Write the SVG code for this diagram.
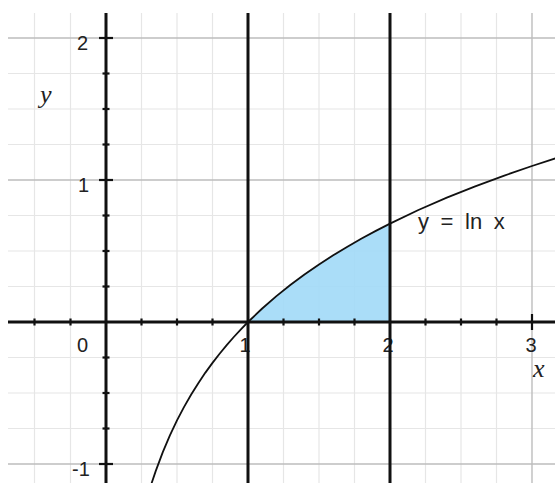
<svg xmlns="http://www.w3.org/2000/svg" width="555" height="483" viewBox="0 0 555 483">
<defs>
<style>
.minor{stroke:#e6e6e6;stroke-width:1.2}
.major{stroke:#bdbdbd;stroke-width:1.4}
.axis{stroke:#111;stroke-width:3}
.vline{stroke:#111;stroke-width:3}
.tick{stroke:#111;stroke-width:2.2}
.curve{fill:none;stroke:#111;stroke-width:1.8;stroke-linejoin:round;stroke-linecap:round}
.shade{fill:#a3daf7;fill-opacity:0.92}
.num{font-family:"Liberation Sans",Arial,sans-serif;font-size:20px;fill:#222;text-anchor:middle}
.var{font-family:"Liberation Serif","Times New Roman",serif;font-style:italic;font-size:26px;fill:#222}
.eq{font-family:"Liberation Sans",Arial,sans-serif;font-size:22px;fill:#222;word-spacing:5.5px}
</style>
</defs>
<rect width="555" height="483" fill="#fff"/>
<g id="grid">
<g class="minor">
<line x1="34.5" y1="13" x2="34.5" y2="483"/>
<line x1="70.5" y1="13" x2="70.5" y2="483"/>
<line x1="141.5" y1="13" x2="141.5" y2="483"/>
<line x1="177" y1="13" x2="177" y2="483"/>
<line x1="212.5" y1="13" x2="212.5" y2="483"/>
<line x1="283.5" y1="13" x2="283.5" y2="483"/>
<line x1="319" y1="13" x2="319" y2="483"/>
<line x1="354.5" y1="13" x2="354.5" y2="483"/>
<line x1="425.5" y1="13" x2="425.5" y2="483"/>
<line x1="461" y1="13" x2="461" y2="483"/>
<line x1="496.5" y1="13" x2="496.5" y2="483"/>
<line x1="8" y1="73.5" x2="555" y2="73.5"/>
<line x1="8" y1="109" x2="555" y2="109"/>
<line x1="8" y1="144.5" x2="555" y2="144.5"/>
<line x1="8" y1="215.5" x2="555" y2="215.5"/>
<line x1="8" y1="251" x2="555" y2="251"/>
<line x1="8" y1="286.5" x2="555" y2="286.5"/>
<line x1="8" y1="357.5" x2="555" y2="357.5"/>
<line x1="8" y1="393" x2="555" y2="393"/>
<line x1="8" y1="428.5" x2="555" y2="428.5"/>
</g>
<g class="major">
<line x1="532" y1="13" x2="532" y2="483"/>
<line x1="8" y1="38" x2="555" y2="38"/>
<line x1="8" y1="180" x2="555" y2="180"/>
<line x1="8" y1="464" x2="555" y2="464"/>
</g>
</g>
<g id="area">
<polygon class="shade" points="248,322 262.2,308.5 276.4,296.1 290.6,284.7 304.8,274.2 319,264.4 333.2,255.3 347.4,246.7 361.6,238.5 375.8,230.9 390,223.6 390,322"/>
</g>
<g id="labels">
<text class="num" x="82.5" y="50">2</text>
<text class="num" x="83.5" y="192">1</text>
<text class="num" x="82.5" y="352">0</text>
<text class="num" x="81" y="476">-1</text>
<text class="num" x="245" y="352">1</text>
<text class="num" x="388" y="352">2</text>
<text class="num" x="531" y="352">3</text>
<text class="var" x="40" y="103">y</text>
<text class="var" x="533" y="377">x</text>
<text class="eq" x="418" y="229">y = ln x</text>
</g>
<g id="connectors">
<g id="axes">
<line class="axis" x1="8" y1="322" x2="555" y2="322"/>
<line class="axis" x1="106" y1="13" x2="106" y2="483"/>
<line class="vline" x1="248" y1="13" x2="248" y2="483"/>
<line class="vline" x1="390" y1="13" x2="390" y2="483"/>
</g>
<g id="ticks" class="tick">
<line x1="34.5" y1="318.5" x2="34.5" y2="325.5"/>
<line x1="70.5" y1="318.5" x2="70.5" y2="325.5"/>
<line x1="141.5" y1="318.5" x2="141.5" y2="325.5"/>
<line x1="177" y1="318.5" x2="177" y2="325.5"/>
<line x1="212.5" y1="318.5" x2="212.5" y2="325.5"/>
<line x1="283.5" y1="318.5" x2="283.5" y2="325.5"/>
<line x1="319" y1="318.5" x2="319" y2="325.5"/>
<line x1="354.5" y1="318.5" x2="354.5" y2="325.5"/>
<line x1="425.5" y1="318.5" x2="425.5" y2="325.5"/>
<line x1="461" y1="318.5" x2="461" y2="325.5"/>
<line x1="496.5" y1="318.5" x2="496.5" y2="325.5"/>
<line x1="532" y1="314" x2="532" y2="330"/>
<line x1="99" y1="38" x2="113" y2="38"/>
<line x1="102.5" y1="73.5" x2="109.5" y2="73.5"/>
<line x1="102.5" y1="109" x2="109.5" y2="109"/>
<line x1="102.5" y1="144.5" x2="109.5" y2="144.5"/>
<line x1="99" y1="180" x2="113" y2="180"/>
<line x1="102.5" y1="215.5" x2="109.5" y2="215.5"/>
<line x1="102.5" y1="251" x2="109.5" y2="251"/>
<line x1="102.5" y1="286.5" x2="109.5" y2="286.5"/>
<line x1="102.5" y1="357.5" x2="109.5" y2="357.5"/>
<line x1="102.5" y1="393" x2="109.5" y2="393"/>
<line x1="102.5" y1="428.5" x2="109.5" y2="428.5"/>
<line x1="99" y1="464" x2="113" y2="464"/>
</g>
<polyline id="curve" class="curve" points="151.4,483.8 155.7,471.1 162.8,452.1 169.9,435.4 177,420.4 184.1,406.9 191.2,394.5 198.3,383.2 205.4,372.6 212.5,362.9 219.6,353.7 226.7,345.1 233.8,337 240.9,329.3 248,322 262.2,308.5 276.4,296.1 290.6,284.7 304.8,274.2 319,264.4 333.2,255.3 347.4,246.7 361.6,238.5 375.8,230.9 390,223.6 418.4,210 446.8,197.7 475.2,186.3 503.6,175.8 532,166 560.4,156.8"/>
</g>
</svg>
